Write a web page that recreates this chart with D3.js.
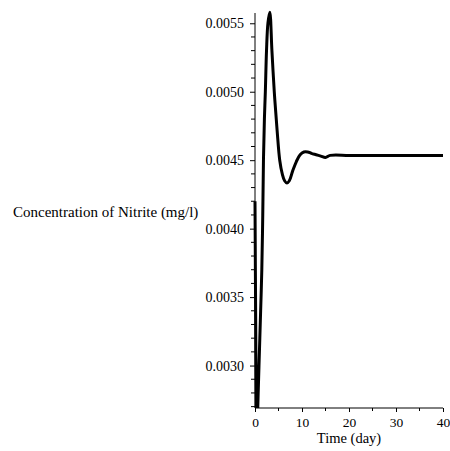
<!DOCTYPE html>
<html><head><meta charset="utf-8">
<script src="https://cdn.jsdelivr.net/npm/d3@7"></script>
<style>body{margin:0;background:#fff}svg{display:block}text{font-family:"Liberation Serif","Times New Roman",serif;fill:#000}</style>
</head><body><div id="chart"></div>
<script>
const timeDays = [0,0.15,0.3,0.45,0.6,0.85,1.2,1.45,1.65,1.8,2.0,2.2,2.45,2.75,3.15,3.6,4.1,4.7,5.26,5.8,6.3,6.8,7.3,8.0,8.8,9.6,10.4,11.2,12.0,13.0,14.0,15.0,16.0,20,25,30,35,40];
const nitrite = [0.0042,0.0033,0.0026,0.0024,0.0027,0.0030,0.0034,0.0037,0.0041,0.0045,0.0048,0.0050,0.0053,0.0055,0.00558,0.0053,0.0050,0.00472,0.0045,0.0044,0.00435,0.004334,0.00435,0.00442,0.00449,0.00454,0.00456,0.00456,0.00455,0.00454,0.00453,0.00452,0.004535,0.004535,0.004535,0.004535,0.004535,0.004535];
const xTicks = [0,10,20,30,40];
const yTicks = [0.0030,0.0035,0.0040,0.0045,0.0050,0.0055];
const xLabel = "Time (day)";
const yLabel = "Concentration of Nitrite (mg/l)";

const W=450,H=451;
const svg=d3.select("#chart").append("svg").attr("width",W).attr("height",H);
const x=d3.scaleLinear().domain([0,40]).range([255,443]);
const y=d3.scaleLinear().domain([0.00269,0.005575]).range([408,13]);

svg.append("clipPath").attr("id","clip").append("rect")
  .attr("x",x(0)-3).attr("y",y.range()[1]-3).attr("width",x(40)-x(0)+6).attr("height",y.range()[0]-y.range()[1]+3);

const yMinor=d3.range(27,56).map(v=>v/10000).filter(v=>!yTicks.some(t=>Math.abs(t-v)<1e-9));
const xMinor=[5,15,25,35];
const gy=svg.append("g").attr("transform",`translate(${x(0)},0)`)
  .call(d3.axisLeft(y).tickValues(yTicks).tickFormat(d3.format(".4f")).tickSize(5).tickPadding(6));
gy.select(".domain").attr("d",`M0,${y.range()[0]}V${y.range()[1]}`);
gy.selectAll("text").style("font-size","14px");
gy.selectAll(".minor").data(yMinor).enter().append("line").attr("class","minor")
  .attr("x1",-4).attr("x2",0).attr("y1",d=>y(d)).attr("y2",d=>y(d)).attr("stroke","#000");

const gx=svg.append("g").attr("transform",`translate(0,${y.range()[0]})`)
  .call(d3.axisBottom(x).tickValues(xTicks).tickFormat(d3.format("d")).tickSize(4).tickPadding(5));
gx.select(".domain").attr("d",`M${x(0)},0H${x(40)}`);
gx.selectAll("text").style("font-size","13.5px");
gx.selectAll(".minor").data(xMinor).enter().append("line").attr("class","minor")
  .attr("y1",0).attr("y2",3).attr("x1",d=>x(d)).attr("x2",d=>x(d)).attr("stroke","#000");

svg.append("text").attr("x",349).attr("y",443).attr("text-anchor","middle").style("font-size","14.5px").text(xLabel);
svg.append("text").attr("x",13).attr("y",217).style("font-size","15px").text(yLabel);

const line=d3.line().x((d,i)=>x(timeDays[i])).y(d=>y(d)).curve(d3.curveCatmullRom);
svg.append("path").datum(nitrite).attr("clip-path","url(#clip)")
  .attr("d",line).attr("fill","none").attr("stroke","#000").attr("stroke-width",3).attr("stroke-linejoin","round");
</script></body></html>
